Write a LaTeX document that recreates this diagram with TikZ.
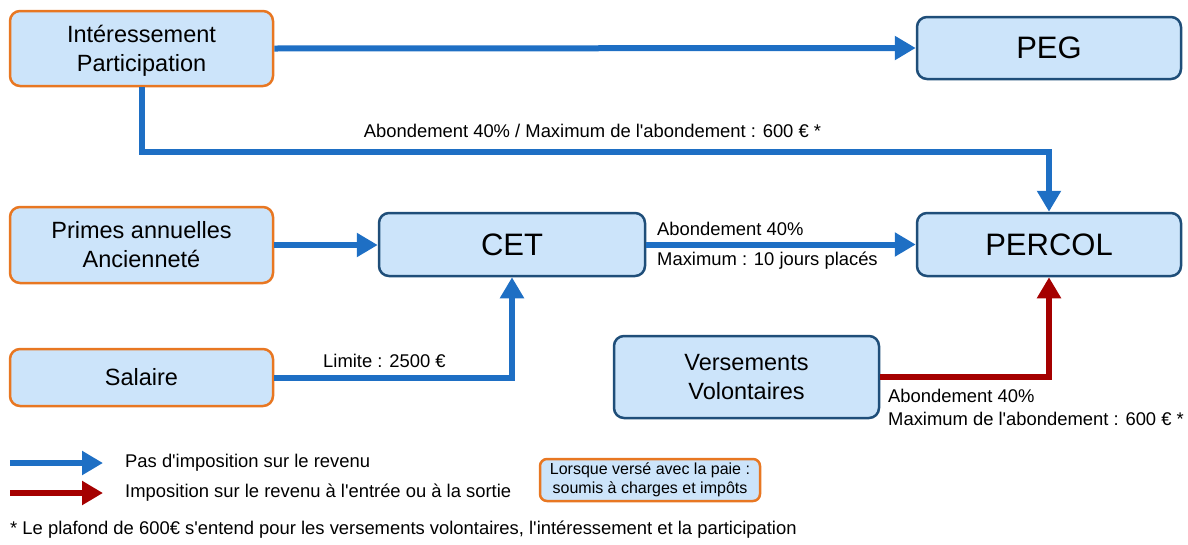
\documentclass[tikz,border=0pt]{standalone}
\usepackage{fontspec}
\setmainfont{Liberation Sans}[Ligatures=TeXOff]
\usetikzlibrary{arrows.meta}
\definecolor{boxfill}{RGB}{204,228,250}
\definecolor{orangeb}{RGB}{232,119,34}
\definecolor{darkb}{RGB}{31,78,121}
\definecolor{arrblue}{RGB}{30,111,196}
\definecolor{arrred}{RGB}{165,0,0}
\tikzset{
  srcbox/.style={draw=orangeb, line width=2.5pt, fill=boxfill, rounded corners=10pt, align=center,
     font=\fontsize{23.5}{29}\selectfont, inner sep=0pt},
  dstbox/.style={draw=darkb, line width=2.5pt, fill=boxfill, rounded corners=10pt, align=center,
     font=\fontsize{31}{36}\selectfont, inner sep=0pt},
  vvbox/.style={draw=darkb, line width=2.5pt, fill=boxfill, rounded corners=10pt, align=center,
     font=\fontsize{23.5}{29}\selectfont, inner sep=0pt},
  notebox/.style={draw=orangeb, line width=2.5pt, fill=boxfill, rounded corners=7pt, align=center,
     font=\fontsize{16}{19}\selectfont, inner sep=0pt},
  lbl/.style={font=\fontsize{18.4}{22}\selectfont, inner sep=0pt, align=left},
  bluearr/.style={draw=arrblue, line width=6pt, -{Triangle[width=23pt,length=21pt]}},
  redarr/.style={draw=arrred, line width=6pt, -{Triangle[width=23pt,length=21pt]}},
}
\begin{document}
\begin{tikzpicture}[x=1pt,y=-1pt]
\useasboundingbox (0,0) rectangle (1188,544);
% boxes
\node[srcbox, minimum width=263pt, minimum height=75pt, text depth=0pt] (int) at (141.5,48.5) {Intéressement\\Participation};
\node[dstbox, minimum width=264pt, minimum height=62pt] (peg) at (1049,48) {PEG};
\node[srcbox, minimum width=263pt, minimum height=76pt] (pri) at (141.5,245) {Primes annuelles\\Ancienneté};
\node[dstbox, minimum width=266pt, minimum height=63pt] (cet) at (512,244.5) {CET};
\node[dstbox, minimum width=264pt, minimum height=63pt] (percol) at (1049,244.5) {PERCOL};
\node[srcbox, minimum width=263pt, minimum height=57pt] (sal) at (141.5,377.5) {Salaire};
\node[vvbox, minimum width=265pt, minimum height=82pt] (vv) at (746.5,377) {Versements\\Volontaires};
\node[notebox, minimum width=220pt, minimum height=42pt] (note) at (650,480) {Lorsque versé avec la paie :\\soumis à charges et impôts};
% connectors
\draw[bluearr] (int.east) -- (peg.west);
\draw[bluearr, line join=miter] (int.south) -- ++(0,65) -| (percol.north);
\draw[bluearr] (pri.east) -- (pri.east -| cet.west);
\draw[bluearr] (cet.east) -- (percol.west);
\draw[bluearr, line join=miter] (sal.east) -| (cet.south);
\draw[redarr, line join=miter] (vv.east) -| (percol.south);
% labels
\node[lbl] (l1) at (592.5,131) {Abondement 40\% / Maximum de l'abondement : 600 € *};
\node[lbl, anchor=west] (l2) at (657,229) {Abondement 40\%};
\node[lbl, anchor=west] (l3) at (657,261) {Maximum : 10 jours placés};
\node[lbl, anchor=west] (l4) at (323,361) {Limite : 2500 €};
\node[lbl, anchor=west] (l5) at (888,396) {Abondement 40\%};
\node[lbl, anchor=west] (l6) at (888,419) {Maximum de l'abondement : 600 € *};
% legend
\coordinate (lb1) at (10,463);
\coordinate (lb2) at (103,463);
\coordinate (lr1) at (10,493);
\coordinate (lr2) at (103,493);
\draw[bluearr] (lb1) -- (lb2);
\draw[redarr] (lr1) -- (lr2);
\node[lbl, anchor=west] (t1) at (125,463) {Pas d'imposition sur le revenu};
\node[lbl, anchor=west] (t2) at (125,493) {Imposition sur le revenu à l'entrée ou à la sortie};
\node[lbl, anchor=west] (fn) at (10,530) {* Le plafond de 600€ s'entend pour les versements volontaires, l'intéressement et la participation};
\end{tikzpicture}
\end{document}
